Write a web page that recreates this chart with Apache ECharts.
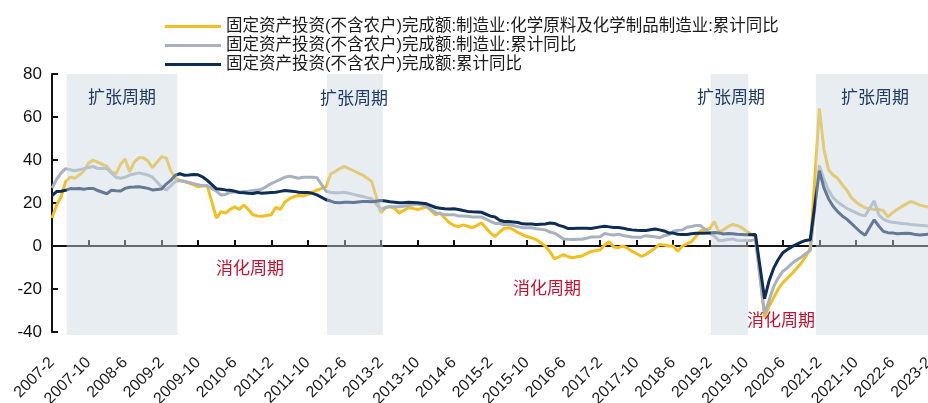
<!DOCTYPE html>
<html><head><meta charset="utf-8">
<script src="https://cdn.jsdelivr.net/npm/echarts@6/dist/echarts.min.js"></script>
<style>html,body{margin:0;padding:0;background:#fff;}#c{width:928px;height:403px;}</style>
</head><body><div id="c"></div>
<script>
// ---- data ----
const seriesNames = [
  '固定资产投资(不含农户)完成额:制造业:化学原料及化学制品制造业:累计同比',
  '固定资产投资(不含农户)完成额:制造业:累计同比',
  '固定资产投资(不含农户)完成额:累计同比'
];
// monthly categories 2007-2 .. 2023-2 (January has no cumulative reading)
const firstYear = 2007, firstMonth = 2, lastYear = 2023, lastMonth = 2;
const months = [];
for (let y = firstYear; y <= lastYear; y++) {
  for (let m = 1; m <= 12; m++) {
    if (y === firstYear && m < firstMonth) continue;
    if (y === lastYear && m > lastMonth) break;
    months.push(y + '-' + m);
  }
}
// 化学原料及化学制品制造业 (yellow)
const chemical = [
  13,19,23,30,32,31.5,33,35,38.5,40,39,                       // 2007 Feb-Dec
  null,37,34.5,33.5,38,40.5,34.5,39,41,41,39.5,36.5,          // 2008
  null,41.5,41,35,31.5,30.5,30,29.3,28.5,27.5,28,28,          // 2009
  null,13,16,15.3,17,18.3,17,19,17,14.5,14,13.8,              // 2010
  null,14.5,18,17,20.5,22,23,23.5,23.3,24,25,26,              // 2011
  null,27.5,33.5,34.6,36,37,36,35,34,33,31.5,30,              // 2012
  null,15.5,17.8,18.3,17.5,15.4,16.5,17.8,17.5,17,17.5,18.3,  // 2013
  null,14.5,15.4,13,10.8,9.5,9,9.8,9.2,8.5,9.5,10.8,          // 2014
  null,6,4.4,6.5,8.2,8.5,7.6,6.2,5.3,4.4,3.8,3,               // 2015
  null,0,-2.6,-6,-5,-4,-5,-5.5,-5,-4.7,-3.5,-2.6,             // 2016
  null,-1.8,0.5,2,-0.5,-0.8,0,-1,-2.5,-3.5,-4.8,-4,           // 2017
  null,-1,0.7,0.5,0,0,-2.5,0,1,2,4.5,7,                       // 2018
  null,8,11.4,6.5,7.5,9,10,9.5,8.5,7,5.5,4.5,                 // 2019
  null,-33,-28,-24,-20,-17,-15,-12.8,-10.5,-8,-5,-1,          // 2020
  null,64,45,35.5,33,31.5,28.5,26,22.5,20.5,19,17.8,          // 2021
  null,17,17,16.5,13.5,15.5,17,18.3,19.5,20.7,20,19,          // 2022
  null,18                                                     // 2023
];
// 制造业 (grey)
const manufacturing = [
  27,31,34,36,35.5,35,35.5,36,36.5,37,36,
  null,36,34,32,31.5,32,33,33.5,34,33.5,33,32,
  null,27.5,26,28,30,30.5,30,29.5,29,28.5,28,28,
  null,25.5,23.7,24,25,25.2,25,25.3,25.5,25.8,26,26.5,
  null,29,30,31,32,32.5,32,31.5,32,32,32,31.8,
  null,25.5,25,24.8,24.8,25,24.5,24,23.5,23,22.5,22,
  null,17,18,18.3,18.3,18.3,18.5,18.8,19.2,19.5,19,18.5,
  null,15.5,15,14.5,14.5,14.5,14,14,13.8,13.5,13.5,13.5,
  null,11.5,10.5,10.5,10,10,9.5,9,8.5,8.5,8.5,8,
  null,7.5,6.5,6,4.6,3.3,3.1,3,3.1,3.1,3.6,4.2,
  null,4.3,5.8,5.4,5.1,5.5,4.9,4.5,4.2,4.1,4.1,4.8,
  null,4.3,3.8,4.8,5.2,6.8,7.3,7.5,8.7,9.1,9.5,9.5,
  null,5.9,4.6,2.5,2.7,3.0,3.3,2.6,2.5,2.6,2.5,3.1,
  null,-31.5,-25.2,-18.8,-14.8,-11.7,-10.2,-8.1,-6.5,-5.3,-3.5,-2.2,
  null,37.5,31,26,22.5,20.5,19,17.5,16.5,15.5,14.5,14,
  null,21,14.5,12.5,11.5,11,10.8,10.5,10.3,10,9.8,9.6,
  null,9.3
];
// 全部 (navy)
const total = [
  23.4,25.3,25.5,25.9,26.7,26.6,26.7,26.4,26.8,26.8,25.8,
  null,24.3,25.9,25.7,25.6,26.8,27.3,27.4,27.6,27.2,26.8,26.1,
  null,26.5,28.8,30.5,32.9,33.6,32.9,33.0,33.3,33.1,32.1,30.5,
  null,26.6,26.4,26.1,25.9,25.5,24.9,24.8,24.5,24.4,24.9,24.5,
  null,24.9,25.0,25.4,25.8,25.6,25.4,25.0,24.9,24.9,24.5,23.8,
  null,21.5,20.9,20.2,20.1,20.4,20.4,20.2,20.5,20.7,20.7,20.6,
  null,21.2,20.9,20.6,20.4,20.1,20.1,20.3,20.2,20.1,19.9,19.6,
  null,17.9,17.6,17.3,17.2,17.3,17.0,16.5,16.1,15.9,15.8,15.7,
  null,13.9,13.5,12.0,11.4,11.4,11.2,10.9,10.3,10.2,10.2,10.0,
  null,10.2,10.7,10.5,9.6,9.0,8.1,8.1,8.2,8.3,8.3,8.1,
  null,8.9,9.2,8.9,8.6,8.6,8.3,7.8,7.5,7.3,7.2,7.2,
  null,7.9,7.5,7.0,6.1,6.0,5.5,5.3,5.4,5.7,5.9,5.9,
  null,6.1,6.3,6.1,5.6,5.8,5.7,5.5,5.4,5.2,5.2,5.4,
  null,-24.5,-16.1,-10.3,-6.3,-3.1,-1.6,-0.3,0.8,1.8,2.6,2.9,
  null,35.0,27.0,22.0,18.5,16.0,14.0,12.5,10.5,8.5,6.5,5.0,
  null,12.2,9.3,6.8,6.2,6.1,5.7,5.8,5.9,5.8,5.3,5.1,
  null,5.5
];
const expansionBands = [['2007-5','2009-5'],['2012-2','2013-2'],['2019-2','2019-10'],['2021-1','2023-2']];
const expansionText = '扩张周期';
const digestionText = '消化周期';
const yMin = -40, yMax = 80, yStep = 20;
const labelEvery = 8;

// ---- chart ----
const FONT = "'Liberation Sans','Noto Sans CJK SC',sans-serif";
const colors = ['#F4BF1E', '#A7B1BF', '#0F2C57'];
const chart = echarts.init(document.getElementById('c'));
const lineSeries = [chemical, manufacturing, total].map((d, i) => ({
  name: seriesNames[i], type: 'line', data: d, connectNulls: true,
  showSymbol: false, symbol: 'none', z: 2 + i,
  lineStyle: { color: colors[i], width: 3 }, itemStyle: { color: colors[i] }
}));
const bandSeries = {
  type: 'custom', silent: true, z: 20, clip: false,
  data: expansionBands.map(b => [months.indexOf(b[0]), months.indexOf(b[1])]),
  encode: { x: [0, 1] },
  renderItem: (params, api) => {
    const p0 = api.coord([api.value(0), yMax]);
    const p1 = api.coord([api.value(1), yMin]);
    return { type: 'rect', shape: { x: p0[0] + 1, y: p0[1], width: p1[0] - p0[0] + 1, height: p1[1] - p0[1] + 3 },
             style: { fill: 'rgba(205,214,226,0.45)' } };
  }
};
const txt = (t, x, y, color) => ({ type: 'text', x: x, y: y, z: 30,
  style: { text: t, fill: color, fontSize: 17, fontFamily: FONT, align: 'center', verticalAlign: 'middle' } });
chart.setOption({
  animation: false,
  textStyle: { fontFamily: FONT },
  legend: {
    data: seriesNames, orient: 'vertical', left: 160, top: 13, itemWidth: 56, itemHeight: 3,
    itemGap: 2, icon: 'rect',
    textStyle: { fontSize: 16.5, color: '#1a1a1a', lineHeight: 17, fontFamily: FONT }
  },
  grid: { left: 52, top: 74, width: 877, height: 258, containLabel: false, outerBoundsMode: 'none' },
  xAxis: {
    type: 'category', data: months, boundaryGap: false,
    axisLine: { lineStyle: { color: '#111', width: 2 } },
    axisTick: { inside: true, length: 6, interval: labelEvery - 1, lineStyle: { color: '#111', width: 2 } },
    axisLabel: { interval: labelEvery - 1, rotate: 45, margin: 28, fontSize: 16, color: '#1a1a1a' },
    splitLine: { show: false }
  },
  yAxis: {
    type: 'value', min: yMin, max: yMax, interval: yStep,
    axisLine: { show: true, lineStyle: { color: '#111', width: 2 } },
    axisTick: { show: true, inside: true, length: 6, lineStyle: { color: '#111', width: 2 } },
    axisLabel: { fontSize: 17, color: '#111', margin: 10 },
    splitLine: { show: false }
  },
  series: [...lineSeries, bandSeries],
  graphic: [
    txt(expansionText, 122, 98, '#1F3A64'), txt(expansionText, 354, 99, '#1F3A64'),
    txt(expansionText, 731, 98, '#1F3A64'), txt(expansionText, 875, 98, '#1F3A64'),
    txt(digestionText, 250, 269, '#C8102E'), txt(digestionText, 547, 289, '#C8102E'),
    txt(digestionText, 781, 321, '#C8102E')
  ]
});
</script></body></html>
